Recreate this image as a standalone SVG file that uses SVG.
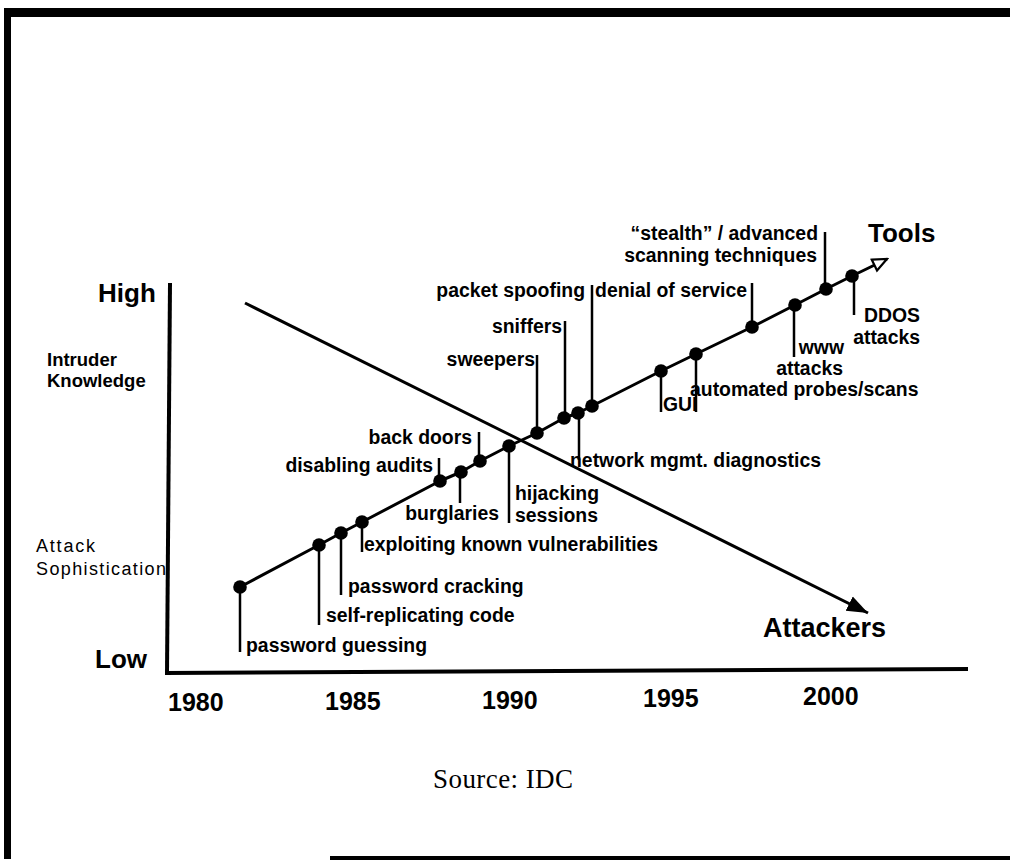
<svg xmlns="http://www.w3.org/2000/svg" width="1010" height="860" viewBox="0 0 1010 860">
  <style>
    .lbl{font-family:"Liberation Sans",Arial,Helvetica,sans-serif;font-weight:bold;font-size:19.4px;fill:#000}
    .end{text-anchor:end}
    .big{font-family:"Liberation Sans",Arial,Helvetica,sans-serif;font-weight:bold;font-size:26px;fill:#000}
    .yr{font-family:"Liberation Sans",Arial,Helvetica,sans-serif;font-weight:bold;font-size:25px;fill:#000}
    .axt{font-family:"Liberation Sans",Arial,Helvetica,sans-serif;font-weight:bold;font-size:18.5px;fill:#000}
    .axr{font-family:"Liberation Sans",Arial,Helvetica,sans-serif;font-size:18px;fill:#000}
    .src{font-family:"Liberation Serif","Times New Roman",serif;font-size:27px;fill:#000}
    .dot{fill:#000}
    .stem{stroke:#000;stroke-width:2.5;fill:none}
    .axis{stroke:#000;stroke-width:4;fill:none}
    .trend{stroke:#000;stroke-width:3;fill:none;stroke-linejoin:round}
  </style>
  <defs>
    <marker id="openHead" markerUnits="userSpaceOnUse" markerWidth="18" markerHeight="16" viewBox="0 0 18 16" refX="16" refY="8" orient="auto">
      <path d="M2,2 L16,8 L2,14 Z" fill="#fff" stroke="#000" stroke-width="2.2"/>
    </marker>
    <marker id="solidHead" markerUnits="userSpaceOnUse" markerWidth="22" markerHeight="18" viewBox="0 0 22 18" refX="21" refY="9" orient="auto">
      <path d="M0,1 L21,9 L0,17 Z" fill="#000"/>
    </marker>
  </defs>

  <rect width="1010" height="860" fill="#fff"/>

  <!-- page frame -->
  <g id="frame" fill="#000">
    <rect x="4" y="8" width="1006" height="9"/>
    <rect x="4" y="8" width="7" height="851"/>
    <rect x="330" y="856" width="680" height="4"/>
  </g>

  <!-- axes -->
  <g id="axes">
    <path class="axis" d="M170,283 L167,673"/>
    <path class="axis" d="M165,673 L968,669"/>
    <text class="big" x="98" y="302">High</text>
    <text class="big" x="95" y="668">Low</text>
    <text class="axt" x="47" y="366">Intruder</text>
    <text class="axt" x="47" y="387">Knowledge</text>
    <text class="axr" x="36" y="552" textLength="59" lengthAdjust="spacing">Attack</text>
    <text class="axr" x="36" y="575" textLength="130" lengthAdjust="spacing">Sophistication</text>
    <text class="yr" x="168" y="711">1980</text>
    <text class="yr" x="325" y="710">1985</text>
    <text class="yr" x="482" y="709">1990</text>
    <text class="yr" x="643" y="707">1995</text>
    <text class="yr" x="803" y="705">2000</text>
  </g>

  <!-- trend lines -->
  <g id="connectors">
    <polyline id="tools-line" class="trend" marker-end="url(#openHead)"
      points="240,587 319,545 341,533 362,522 440,481 461,472 480,461 509,446 537,433 564,418 578,413 592,406 661,371 696,354 752,327 795,305 826,289 852,276 887,259"/>
    <line id="attackers-line" class="trend" x1="245" y1="303" x2="868" y2="613" marker-end="url(#solidHead)"/>
  </g>

  <text id="tools-title" class="big" x="868" y="242">Tools</text>
  <text id="attackers-title" class="big" x="763" y="637" style="font-size:27px">Attackers</text>

  <!-- milestones along the tools line -->
  <g id="password-guessing">
    <path class="stem" d="M240,587 V652"/>
    <circle class="dot" cx="240" cy="587" r="6.8"/>
    <text class="lbl" x="246" y="652">password guessing</text>
  </g>
  <g id="self-replicating-code">
    <path class="stem" d="M319,545 V625"/>
    <circle class="dot" cx="319" cy="545" r="6.8"/>
    <text class="lbl" x="326" y="622">self-replicating code</text>
  </g>
  <g id="password-cracking">
    <path class="stem" d="M341,533 V595"/>
    <circle class="dot" cx="341" cy="533" r="6.8"/>
    <text class="lbl" x="348" y="593">password cracking</text>
  </g>
  <g id="exploiting-vulnerabilities">
    <path class="stem" d="M362,522 V552"/>
    <circle class="dot" cx="362" cy="522" r="6.8"/>
    <text class="lbl" x="364" y="551">exploiting known vulnerabilities</text>
  </g>
  <g id="disabling-audits">
    <path class="stem" d="M439,481 V458"/>
    <circle class="dot" cx="440" cy="481" r="6.8"/>
    <text class="lbl end" x="433" y="472">disabling audits</text>
  </g>
  <g id="burglaries">
    <path class="stem" d="M460,472 V503"/>
    <circle class="dot" cx="461" cy="472" r="6.8"/>
    <text class="lbl end" x="499" y="520">burglaries</text>
  </g>
  <g id="back-doors">
    <path class="stem" d="M479,461 V432"/>
    <circle class="dot" cx="480" cy="461" r="6.8"/>
    <text class="lbl end" x="472" y="444">back doors</text>
  </g>
  <g id="hijacking-sessions">
    <path class="stem" d="M509,446 V523"/>
    <circle class="dot" cx="509" cy="446" r="6.8"/>
    <text class="lbl" x="515" y="500">hijacking</text>
    <text class="lbl" x="515" y="522">sessions</text>
  </g>
  <g id="sweepers">
    <path class="stem" d="M537,433 V355"/>
    <circle class="dot" cx="537" cy="433" r="6.8"/>
    <text class="lbl end" x="535" y="366">sweepers</text>
  </g>
  <g id="sniffers">
    <path class="stem" d="M565,418 V321"/>
    <circle class="dot" cx="564" cy="418" r="6.8"/>
    <text class="lbl end" x="562" y="333">sniffers</text>
  </g>
  <g id="network-diagnostics">
    <path class="stem" d="M579,413 V460"/>
    <circle class="dot" cx="578" cy="413" r="6.8"/>
    <text class="lbl" x="570" y="467">network mgmt. diagnostics</text>
  </g>
  <g id="packet-spoofing">
    <path class="stem" d="M592,406 V285"/>
    <circle class="dot" cx="592" cy="406" r="6.8"/>
    <text class="lbl end" x="585" y="297">packet spoofing</text>
  </g>
  <g id="gui">
    <path class="stem" d="M661,371 V412"/>
    <circle class="dot" cx="661" cy="371" r="6.8"/>
    <text class="lbl" x="663" y="411">GUI</text>
  </g>
  <g id="automated-probes">
    <path class="stem" d="M696,354 V412"/>
    <circle class="dot" cx="696" cy="354" r="6.8"/>
    <text class="lbl" x="690" y="396">automated probes/scans</text>
  </g>
  <g id="denial-of-service">
    <path class="stem" d="M752,327 V283"/>
    <circle class="dot" cx="752" cy="327" r="6.8"/>
    <text class="lbl end" x="747" y="297">denial of service</text>
  </g>
  <g id="www-attacks">
    <path class="stem" d="M794,305 V357"/>
    <circle class="dot" cx="795" cy="305" r="6.8"/>
    <text class="lbl end" x="844" y="354">www</text>
    <text class="lbl end" x="843" y="375">attacks</text>
  </g>
  <g id="stealth-scanning">
    <path class="stem" d="M825,289 V232"/>
    <circle class="dot" cx="826" cy="289" r="6.8"/>
    <text class="lbl end" x="818" y="240">“stealth” / advanced</text>
    <text class="lbl end" x="817" y="262">scanning techniques</text>
  </g>
  <g id="ddos-attacks">
    <path class="stem" d="M854,276 V315"/>
    <circle class="dot" cx="852" cy="276" r="6.8"/>
    <text class="lbl end" x="920" y="322">DDOS</text>
    <text class="lbl end" x="920" y="344">attacks</text>
  </g>

  <text id="source" class="src" x="433" y="788" textLength="140" lengthAdjust="spacing">Source: IDC</text>
</svg>
